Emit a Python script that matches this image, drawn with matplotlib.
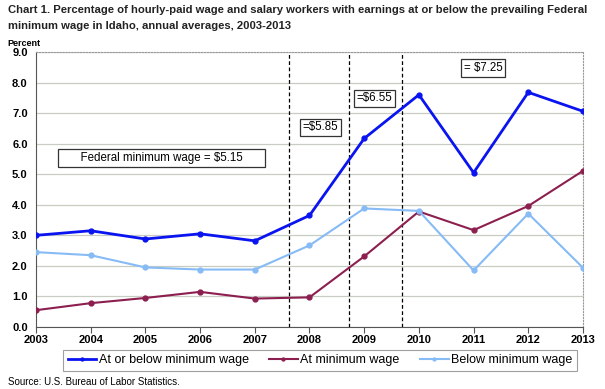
import matplotlib
matplotlib.use('Agg')
from matplotlib import pyplot as plt

years = [2003, 2004, 2005, 2006, 2007, 2008, 2009, 2010, 2011, 2012, 2013]
at_or_below = [3.0, 3.15, 2.88, 3.05, 2.82, 3.65, 6.17, 7.6, 5.05, 7.68, 7.06]
at_min = [0.55, 0.78, 0.95, 1.15, 0.93, 0.97, 2.31, 3.78, 3.17, 3.96, 5.11]
below_min = [2.45, 2.35, 1.95, 1.88, 1.88, 2.67, 3.88, 3.8, 1.85, 3.71, 1.94]
wage_changes = [2007.62, 2008.73, 2009.70]
wage_labels = ['      Federal minimum wage = $5.15      ', '=$5.85', '=$6.55', '= $7.25']
wage_label_pos = [(2005.30, 5.53), (2008.20, 6.53), (2009.19, 7.48), (2011.17, 8.47)]

plt.rcParams['font.family'] = ['Liberation Sans', 'DejaVu Sans']

fig = plt.figure(figsize=(6.05, 3.89), dpi=100)
ax = fig.add_axes([0.0595, 0.1594, 0.9041, 0.7069])

ax.plot(years, at_or_below, color='#0a14f0', lw=2, marker='o', ms=3.5,
        label='At or below minimum wage', zorder=4)
ax.plot(years, at_min, color='#8c1f4f', lw=1.5, marker='o', ms=3.5,
        label='At minimum wage', zorder=3)
ax.plot(years, below_min, color='#86bbf5', lw=1.5, marker='o', ms=3.5,
        label='Below minimum wage', zorder=3)

for x in wage_changes:
    ax.axvline(x, color='black', ls=(0, (3, 2)), lw=0.9, zorder=2)

for txt, (x, y) in zip(wage_labels, wage_label_pos):
    ax.text(x, y, txt, fontsize=8.3, ha='center', va='center', zorder=5,
            bbox=dict(boxstyle='square,pad=0.25', fc='white', ec='#333333', lw=0.9))

ax.set_xlim(2003, 2013)
ax.set_ylim(0, 9)
ax.set_yticks(range(10))
ax.set_yticklabels(['%.1f' % v for v in range(10)], fontweight='bold', fontsize=8)
ax.set_xticks(years)
ax.set_xticklabels([str(y) for y in years], fontweight='bold', fontsize=8)
ax.yaxis.grid(True, color='#c8cdc4', lw=0.9)
ax.set_axisbelow(True)
ax.tick_params(axis='y', length=0, pad=6)
ax.tick_params(axis='x', length=4, direction='out', color='#555555', pad=2)
for s in ['top', 'right']:
    ax.spines[s].set_color('#999999')
    ax.spines[s].set_linestyle(':')
ax.spines['left'].set_color('#555555')
ax.spines['bottom'].set_color('#555555')

fig.text(0.013, 0.988, 'Chart 1. Percentage of hourly-paid wage and salary workers with earnings at or below the prevailing Federal\nminimum wage in Idaho, annual averages, 2003-2013',
         fontsize=8.15, fontweight='bold', va='top', ha='left', color='#222222', linespacing=1.75)
fig.text(0.013, 0.877, 'Percent', fontsize=6.5, fontweight='bold', va='bottom')
fig.text(0.013, 0.005, 'Source: U.S. Bureau of Labor Statistics.', fontsize=7, va='bottom')

leg = ax.legend(loc='center', bbox_to_anchor=(0.0384, -0.164, 0.9616, 0.087), mode='expand',
                ncol=3, fontsize=9, frameon=True, fancybox=False, edgecolor='#888888',
                handlelength=2.3, handletextpad=0.2, borderpad=0.35, markerscale=0.6)
leg.get_frame().set_linewidth(0.8)

fig.savefig('out.png', dpi=100)
